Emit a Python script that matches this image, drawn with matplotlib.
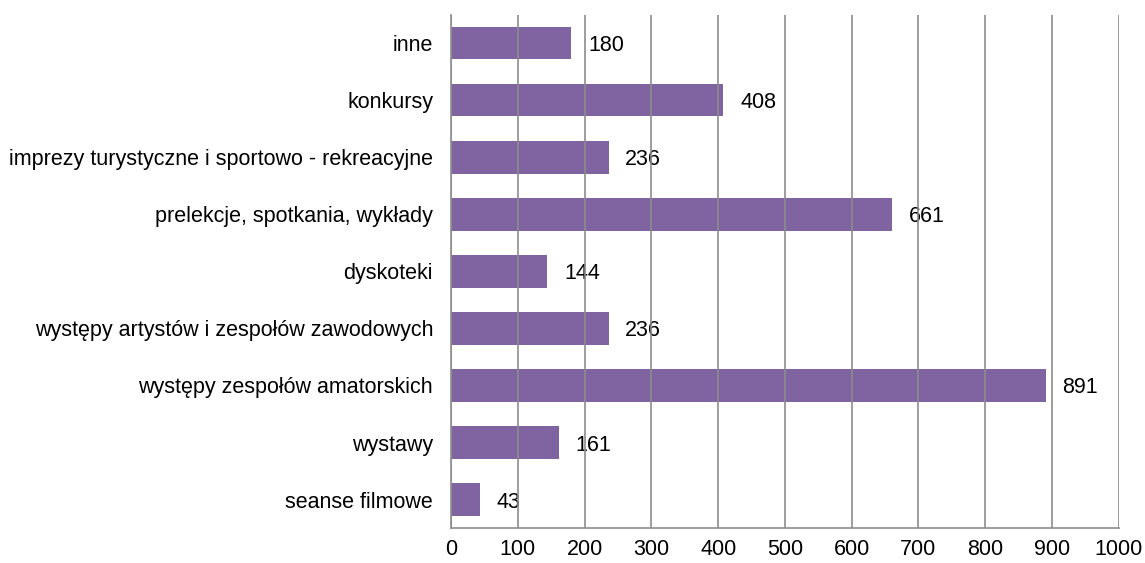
import matplotlib
matplotlib.use("Agg")
import matplotlib.pyplot as plt

categories = [
    "seanse filmowe",
    "wystawy",
    "występy zespołów amatorskich",
    "występy artystów i zespołów zawodowych",
    "dyskoteki",
    "prelekcje, spotkania, wykłady",
    "imprezy turystyczne i sportowo - rekreacyjne",
    "konkursy",
    "inne",
]
values = [43, 161, 891, 236, 144, 661, 236, 408, 180]
x_ticks = list(range(0, 1001, 100))

plt.rcParams['font.family'] = ['Liberation Sans', 'DejaVu Sans']

fig = plt.figure(figsize=(11.45, 5.63), dpi=100)
ax = fig.add_axes([0.394, 0.062, 0.583, 0.912])

pos = range(len(categories))
ax.barh(pos, values, height=0.57, color="#8064A2", zorder=2)
# value labels sit beneath the grid lines
for p, v in zip(pos, values):
    ax.text(v + 25, p, str(v), va="center_baseline", ha="left",
            fontsize=15.5, zorder=0.5)

ax.set_xlim(0, 1000)
ax.set_ylim(-0.5, len(categories) - 0.5)
ax.set_xticks(x_ticks)
ax.set_yticks(list(pos))
ax.set_yticklabels(categories)
ax.tick_params(axis="both", labelsize=15.5, length=0)
ax.tick_params(axis="y", pad=13)
ax.tick_params(axis="x", pad=8)

ax.grid(axis="x", color="#8c8c8c", linewidth=1.2, zorder=1)
ax.set_axisbelow(False)
for side in ["top", "right"]:
    ax.spines[side].set_visible(False)
ax.spines["left"].set_color("#8c8c8c")
ax.spines["bottom"].set_color("#8c8c8c")
ax.spines["left"].set_linewidth(1.2)
ax.spines["bottom"].set_linewidth(1.2)
for gl in ax.get_xgridlines():
    gl.set_zorder(1)

fig.savefig("out.png", dpi=100)
